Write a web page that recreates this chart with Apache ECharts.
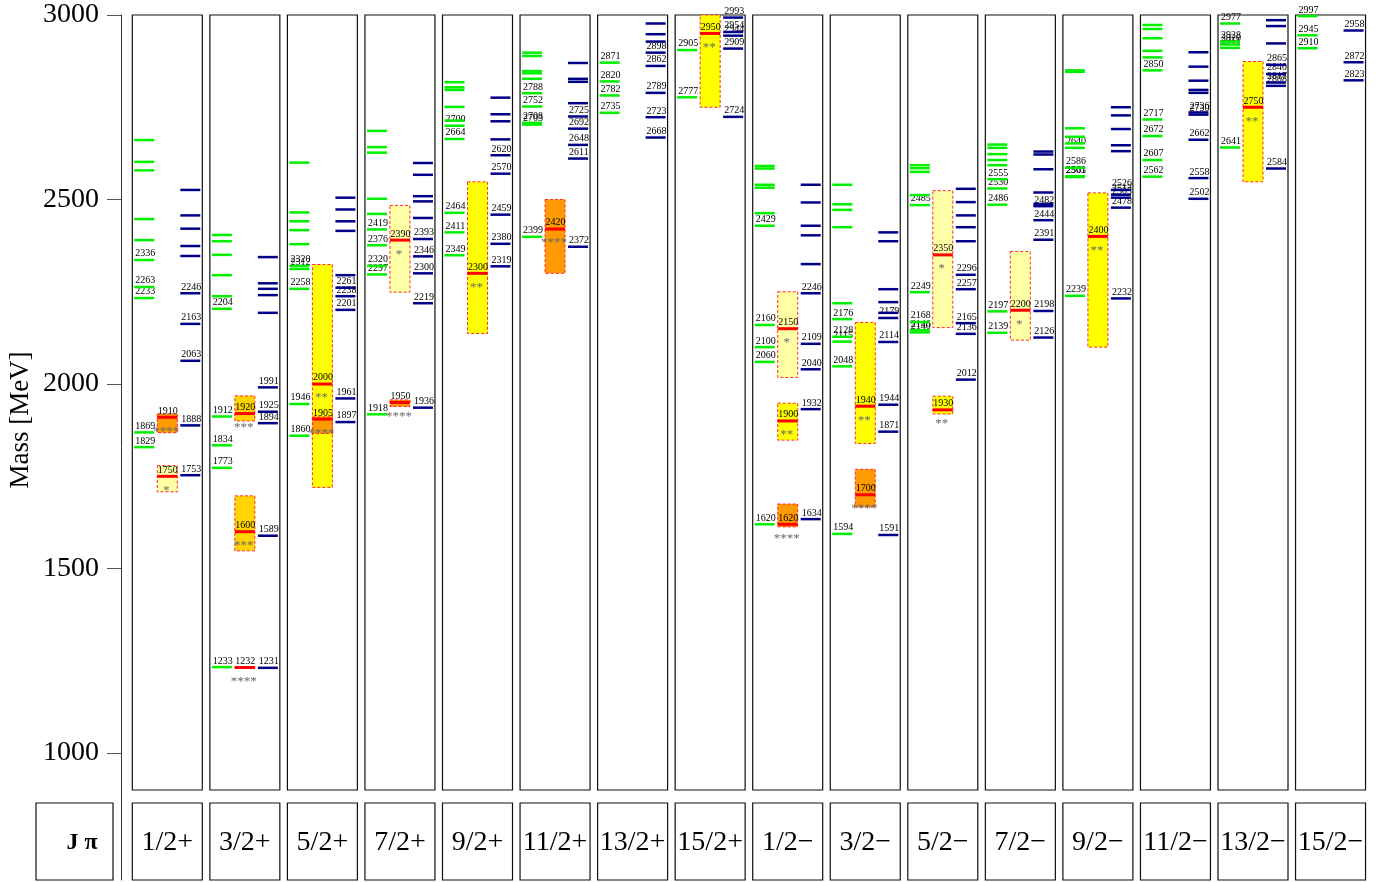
<!DOCTYPE html>
<html><head><meta charset="utf-8">
<script src="https://cdn.jsdelivr.net/npm/echarts@6/dist/echarts.min.js"></script>
<style>html,body{margin:0;padding:0;background:#fff}#c{width:1390px;height:882px}</style>
</head><body><div id="c"></div>
<script>
const jpLabels = ['1/2+','3/2+','5/2+','7/2+','9/2+','11/2+','13/2+','15/2+','1/2−','3/2−','5/2−','7/2−','9/2−','11/2−','13/2−','15/2−'];
const yTicks = [1000, 1500, 2000, 2500, 3000];

// model A (green levels), ascending
const greenLevels = [
 [1829,1869,2233,2263,2336,2390,2447,2579,2602,2661],
 [1233,1773,1834,1912,2204,2238,2295,2350,2387,2404],
 [1860,1946,2258,2312,2320,2379,2417,2441,2465,2600],
 [1918,2297,2320,2376,2419,2461,2502,2627,2642,2686],
 [2349,2411,2464,2664,2700,2714,2751,2797,2804,2818],
 [2399,2703,2708,2752,2788,2827,2842,2848,2889,2898],
 [2735,2782,2820,2871],
 [2777,2905],
 [1620,2060,2100,2160,2429,2463,2532,2540,2584,2591],
 [1594,2048,2115,2128,2176,2219,2425,2472,2487,2540],
 [2140,2146,2168,2249,2485,2512,2575,2585,2593],
 [2139,2197,2486,2530,2555,2593,2607,2623,2640,2649],
 [2239,2561,2563,2586,2640,2652,2670,2693,2846,2850],
 [2562,2607,2672,2717,2850,2885,2903,2937,2962,2973],
 [2641,2911,2920,2928,2977],
 [2910,2945,2997]
];

// model B (blue levels), ascending
const blueLevels = [
 [1753,1888,2063,2163,2246,2347,2374,2421,2457,2526],
 [1231,1589,1894,1925,1991,2193,2241,2258,2273,2344],
 [1897,1961,2201,2238,2261,2295,2415,2441,2473,2505],
 [1936,2219,2300,2346,2393,2450,2495,2509,2567,2599],
 [2319,2380,2459,2570,2620,2663,2712,2731,2776],
 [2372,2611,2648,2692,2725,2761,2819,2827,2870],
 [2668,2723,2789,2862,2898,2928,2948,2977],
 [2724,2909,2944,2954,2993],
 [1634,1932,2040,2109,2246,2325,2403,2429,2492,2540],
 [1591,1871,1944,2114,2179,2193,2222,2257,2387,2411],
 [2012,2136,2165,2257,2296,2387,2425,2457,2493,2529],
 [2126,2198,2391,2444,2482,2488,2519,2582,2622,2630],
 [2232,2478,2505,2513,2526,2631,2647,2691,2728,2750],
 [2502,2558,2662,2730,2736,2789,2797,2822,2860,2899],
 [2584,2808,2817,2840,2865,2923,2970,2986],
 [2823,2872,2958]
];

// experimental states
const expMass  = [[1750,1910],[1232,1600,1920],[1905,2000],[1950,2390],[2300],[2420],[],[2950],[1620,1900,2150],[1700,1940],[1930,2350],[2200],[2400],[],[2750],[]];
const expLow   = [[1708,1868],[1230,1548,1900],[1866,1720],[1939,2249],[2137],[2300],[],[2750],[1613,1848,2018],[1667,1839],[1919,2153],[2119],[2100],[],[2548],[]];
const expHigh  = [[1779,1919],[1234,1697,1968],[1911,2324],[1957,2484],[2548],[2500],[],[3000],[1675,1948,2250],[1769,2167],[1967,2524],[2359],[2518],[],[2874],[]];
const expStars = [[1,4],[4,3,3],[4,2],[4,1],[2],[4],[],[2],[4,2,1],[4,2],[2,1],[1],[2],[],[2],[]];

const STAR_COLORS = {1:'#ffffa6', 2:'#ffff00', 3:'#ffd400', 4:'#ff9a00'};
const N = jpLabels.length;
const LEFT0 = 132.3, STEP = 77.55, PW = 70, TOP = 15, H = 775;
const YMIN = 900, YMAX = 3000;
const SERIF = '"Liberation Serif","DejaVu Serif",serif';
const smallFont = '10px ' + SERIF;

function levelSeries(i, levels, x0, x1, color) {
  return {
    type: 'custom', xAxisIndex: i, yAxisIndex: i, clip: false, silent: true,
    data: levels.map((m, k) => [k, m]),
    encode: {x: 0, y: 1},
    renderItem(params, api) {
      const k = api.value(0), m = api.value(1);
      const a = api.coord([x0, m]), b = api.coord([x1, m]);
      const ch = [{type: 'line', shape: {x1: a[0], y1: a[1], x2: b[0], y2: b[1]},
                   style: {stroke: color, lineWidth: 2.5}}];
      if (k < 5) ch.push({type: 'text', x: a[0] + 1, y: a[1] - 1.2,
        style: {text: String(m), fill: '#000', font: smallFont, align: 'left', verticalAlign: 'bottom'}});
      return {type: 'group', children: ch};
    }
  };
}

function expSeries(i) {
  const items = expMass[i].map((m, k) => [m, expLow[i][k], expHigh[i][k], expStars[i][k]]);
  items.sort((p, q) => (q[2] - q[1]) - (p[2] - p[1]));
  return {
    type: 'custom', xAxisIndex: i, yAxisIndex: i, clip: false, silent: true,
    data: items, encode: {x: 3, y: 0},
    renderItem(params, api) {
      const m = api.value(0), lo = api.value(1), hi = api.value(2), s = api.value(3);
      const tl = api.coord([25, hi]), br = api.coord([45, lo]);
      const ml = api.coord([25, m]), mr = api.coord([45, m]);
      return {type: 'group', children: [
        {type: 'rect', shape: {x: tl[0], y: tl[1], width: br[0] - tl[0], height: Math.max(br[1] - tl[1], 1)},
         style: {fill: STAR_COLORS[s], stroke: '#ff2a2a', lineWidth: 1, lineDash: [3, 2]}},
        {type: 'line', shape: {x1: ml[0], y1: ml[1], x2: mr[0], y2: mr[1]},
         style: {stroke: '#ff0000', lineWidth: 3}},
        {type: 'text', x: ml[0] + 0.5, y: ml[1] - 1.2,
         style: {text: String(m), fill: '#000', font: smallFont, align: 'left', verticalAlign: 'bottom'}},
        {type: 'text', x: (ml[0] + mr[0]) / 2 - 1, y: ml[1] + 14,
         style: {text: '*'.repeat(s), fill: '#6a6a6a', font: '13px ' + SERIF, align: 'center', verticalAlign: 'middle'}}
      ]};
    }
  };
}

const grids = [], xAxes = [], yAxes = [], series = [], graphics = [];
for (let i = 0; i < N; i++) {
  const left = LEFT0 + STEP * i;
  grids.push({left: left, top: TOP, width: PW, height: H, show: true, borderColor: '#111', borderWidth: 1.2});
  xAxes.push({gridIndex: i, type: 'value', min: 0, max: PW, show: false});
  yAxes.push({gridIndex: i, type: 'value', min: YMIN, max: YMAX, show: false});
  series.push(levelSeries(i, greenLevels[i], 2, 22, '#00f000'));
  series.push(levelSeries(i, blueLevels[i], 48, 68, '#000088'));
  series.push(expSeries(i));
  graphics.push({type: 'rect', shape: {x: left, y: 803, width: PW, height: 77},
                 style: {fill: '#fff', stroke: '#111', lineWidth: 1.2}});
  graphics.push({type: 'text', x: left + PW / 2, y: 843,
                 style: {text: jpLabels[i], font: '28px ' + SERIF, fill: '#000', align: 'center', verticalAlign: 'middle'}});
}
// main mass axis (extends down past the panels)
const AX_H = 865;
grids.push({left: 121, top: TOP, width: 1, height: AX_H, show: false});
xAxes.push({gridIndex: N, type: 'value', min: 0, max: 1, show: false});
yAxes.push({gridIndex: N, type: 'value', position: 'left',
  min: YMAX - AX_H * (YMAX - YMIN) / H, max: YMAX,
  axisLine: {show: true, lineStyle: {color: '#333', width: 1}},
  axisTick: {show: true, length: 14, customValues: yTicks, lineStyle: {color: '#555'}},
  axisLabel: {customValues: yTicks, margin: 22, fontSize: 28, fontFamily: SERIF, color: '#000',
              formatter: v => String(Math.round(v))},
  splitLine: {show: false}
});
graphics.push({type: 'rect', shape: {x: 36, y: 803, width: 77, height: 77},
               style: {fill: '#fff', stroke: '#111', lineWidth: 1.2}});
graphics.push({type: 'text', x: 82, y: 843,
               style: {text: 'J π', font: 'bold 24px ' + SERIF, fill: '#000', align: 'center', verticalAlign: 'middle'}});
graphics.push({type: 'text', x: 21, y: 420, rotation: Math.PI / 2,
               style: {text: 'Mass [MeV]', font: '27px ' + SERIF, fill: '#000', align: 'center', verticalAlign: 'middle'}});

const chart = echarts.init(document.getElementById('c'));
chart.setOption({
  animation: false,
  grid: grids, xAxis: xAxes, yAxis: yAxes, series: series,
  graphic: graphics
});
</script></body></html>
